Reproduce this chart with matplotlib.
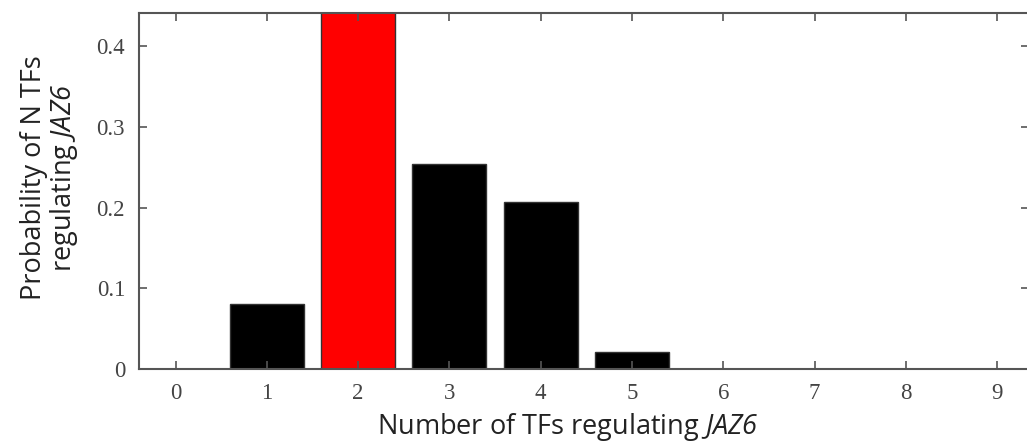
import numpy as np
from matplotlib import pyplot as plt
from matplotlib.ticker import FuncFormatter

# values
n_tfs = [0, 1, 2, 3, 4, 5, 6, 7, 8, 9]
probability = [0.0, 0.080, 0.442, 0.254, 0.207, 0.0215, 0.0, 0.0, 0.0, 0.0]
highlight = 2
y_ticks = [0, 0.1, 0.2, 0.3, 0.4]

# italic gene name (digits too) inside the sans labels
plt.rcParams['mathtext.fontset'] = 'custom'
plt.rcParams['mathtext.rm'] = 'Open Sans:italic'
plt.rcParams['mathtext.it'] = 'Open Sans:italic'

fig = plt.figure(figsize=(10.27, 4.43), dpi=100)
ax = fig.add_axes([139 / 1027, 1 - 369 / 443, 1 - 139 / 1027 + 0.002, (369 - 13) / 443])

colors = ['red' if n == highlight else 'black' for n in n_tfs]
ax.bar(n_tfs, probability, width=0.81, color=colors, edgecolor='#333333', linewidth=1.0)

ax.set_xlim(-0.4, 9.35)
ax.set_ylim(0, 0.441)
ax.set_xticks(n_tfs)
ax.set_yticks(y_ticks)
ax.yaxis.set_major_formatter(FuncFormatter(lambda v, p: '0' if v == 0 else f'{v:.1f}'))

ax.tick_params(direction='in', length=6, width=1.2, color='#555555',
               top=True, right=True, labelsize=16.5, labelcolor='#444444', pad=10)
for lab in ax.get_xticklabels() + ax.get_yticklabels():
    lab.set_family('Liberation Serif')
for s in ax.spines.values():
    s.set_color('#555555')
    s.set_linewidth(1.5)

ax.set_xlabel(r'Number of TFs regulating $\mathrm{JAZ6}$', family='Open Sans',
              fontsize=19.5, color='#222222')
ax.xaxis.set_label_coords(0.482, -0.118)
ax.set_ylabel('Probability of N TFs\n' + r'regulating $\mathrm{JAZ6}$', family='Open Sans',
              fontsize=19.5, color='#222222', linespacing=1.0)
ax.yaxis.set_label_coords(-0.066, 0.537)

fig.savefig('out.png', dpi=100)
